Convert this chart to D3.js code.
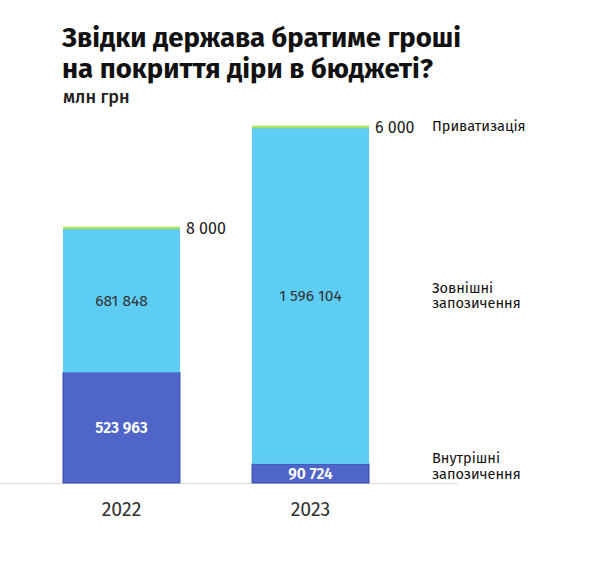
<!DOCTYPE html>
<html>
<head>
<meta charset="utf-8">
<script src="https://cdn.jsdelivr.net/npm/d3@7"></script>
<style>
  body { margin: 0; background: #fff; }
  text { font-family: "Fira Sans", "Noto Sans", sans-serif; }
</style>
</head>
<body>
<div id="chart"></div>
<script>
const years = ["2022", "2023"]
const seriesNames = ["Внутрішні запозичення", "Зовнішні запозичення", "Приватизація"]
const domestic = [523963, 90724]
const external = [681848, 1596104]
const privatization = [8000, 6000]

const width = 600
const height = 577
const baseY = 483
const topY = 126
const colors = ["#4f65c8", "#5ecdf3", "#a6e25b"]
const strokes = ["#3a4db0", "#5ecdf3", "#a6e25b"]

const fmt = v => d3.format(",")(v).replace(/,/g, " ")

const rows = years.map((y, i) => ({ year: y, d: domestic[i], e: external[i], p: privatization[i] }))
const stack = d3.stack().keys(["d", "e", "p"])(rows)

const x = d3.scaleBand(years, [63, 369]).paddingInner(0.381).paddingOuter(0)
const y = d3.scaleLinear([0, d3.max(rows, r => r.d + r.e + r.p)], [baseY, topY])

const svg = d3.select("#chart").append("svg")
    .attr("width", width)
    .attr("height", height)
    .attr("viewBox", [0, 0, width, height])

// title
svg.append("text").attr("x", 62).attr("y", 47)
    .attr("font-size", 27.5).attr("font-weight", 700).attr("fill", "#111")
    .text("Звідки держава братиме гроші")
svg.append("text").attr("x", 62).attr("y", 78)
    .attr("font-size", 27.5).attr("font-weight", 700).attr("fill", "#111")
    .text("на покриття діри в бюджеті?")
svg.append("text").attr("x", 63).attr("y", 103)
    .attr("font-size", 18).attr("font-weight", 500).attr("fill", "#222")
    .text("млн грн")

// baseline
svg.append("line")
    .attr("x1", 0).attr("x2", 458)
    .attr("y1", baseY + 0.5).attr("y2", baseY + 0.5)
    .attr("stroke", "#dcdcdc")

// bars
stack.forEach((layer, k) => {
    svg.append("g").selectAll("rect")
        .data(layer)
        .join("rect")
        .attr("x", d => x(d.data.year))
        .attr("width", x.bandwidth())
        .attr("y", d => y(d[1]))
        .attr("height", d => y(d[0]) - y(d[1]))
        .attr("fill", colors[k])
        .attr("stroke", k === 0 ? strokes[k] : "none")
        .attr("stroke-width", 1)
})
// green top line for privatization
svg.append("g").selectAll("line")
    .data(stack[2])
    .join("line")
    .attr("x1", d => x(d.data.year))
    .attr("x2", d => x(d.data.year) + x.bandwidth())
    .attr("y1", d => y(d[1]) + 1)
    .attr("y2", d => y(d[1]) + 1)
    .attr("stroke", colors[2])
    .attr("stroke-width", 2.5)

// values inside bars
;[0, 1].forEach(k => {
    svg.append("g").selectAll("text")
        .data(stack[k])
        .join("text")
        .attr("x", d => x(d.data.year) + x.bandwidth() / 2)
        .attr("y", d => (y(d[0]) + y(d[1])) / 2 + 5.5)
        .attr("text-anchor", "middle")
        .attr("font-size", 15.5)
        .attr("font-weight", k === 0 ? 600 : 400)
        .attr("fill", k === 0 ? "#fff" : "#333")
        .text((d, i) => fmt(k === 0 ? domestic[i] : external[i]))
})

// privatization values outside
svg.append("g").selectAll("text")
    .data(stack[2])
    .join("text")
    .attr("x", d => x(d.data.year) + x.bandwidth() + 6)
    .attr("y", d => y(d[1]) + 7)
    .attr("font-family", "Roboto, sans-serif")
    .attr("font-size", 16)
    .attr("fill", "#222")
    .text((d, i) => fmt(privatization[i]))

// year labels
svg.append("g").selectAll("text")
    .data(years)
    .join("text")
    .attr("x", d => x(d) + x.bandwidth() / 2)
    .attr("y", 516)
    .attr("text-anchor", "middle")
    .attr("font-family", "Roboto, sans-serif")
    .attr("font-size", 19.5)
    .attr("fill", "#333")
    .text(d => d)

// series labels on the right, aligned to the last bar
const last = years.length - 1
const labelX = 432
const labelLines = [["Внутрішні", "запозичення"], ["Зовнішні", "запозичення"], ["Приватизація"]]
const labelY = [466, (y(stack[1][last][0]) + y(stack[1][last][1])) / 2, y(stack[2][last][1])]
labelLines.forEach((lines, k) => {
    const t = svg.append("text")
        .attr("x", labelX)
        .attr("font-size", 14.5)
        .attr("font-weight", 400)
        .attr("fill", "#111")
    lines.forEach((ln, j) => {
        t.append("tspan")
            .attr("x", labelX)
            .attr("y", labelY[k] + 5 + (j - (lines.length - 1) / 2) * 15.5)
            .text(ln)
    })
})
</script>
</body>
</html>
